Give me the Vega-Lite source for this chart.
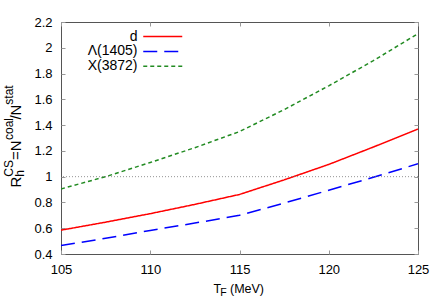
{
  "$schema": "https://vega.github.io/schema/vega-lite/v6.json",
  "width": 357,
  "height": 232,
  "autosize": {"type": "none"},
  "padding": {"left": 61, "top": 22, "right": 18, "bottom": 51},
  "background": "white",
  "config": {
    "view": {"stroke": "#555555", "strokeWidth": 1},
    "font": "Liberation Sans",
    "axis": {
      "labelFont": "Liberation Sans",
      "titleFont": "Liberation Sans",
      "labelColor": "black",
      "titleColor": "black",
      "titleFontWeight": "normal",
      "grid": false,
      "domain": false,
      "tickColor": "#999999",
      "tickSize": -4,
      "labelFontSize": 13,
      "titleFontSize": 13,
      "labelFlush": false,
      "labelOverlap": false
    }
  },
  "datasets": {
    "curves": [
      {"T": 105, "R": 0.585, "s": "d"},
      {"T": 107.5, "R": 0.647, "s": "d"},
      {"T": 110, "R": 0.713, "s": "d"},
      {"T": 112.5, "R": 0.785, "s": "d"},
      {"T": 115, "R": 0.862, "s": "d"},
      {"T": 117.5, "R": 0.975, "s": "d"},
      {"T": 120, "R": 1.095, "s": "d"},
      {"T": 122.5, "R": 1.23, "s": "d"},
      {"T": 125, "R": 1.37, "s": "d"},
      {"T": 105, "R": 0.465, "s": "Λ(1405)"},
      {"T": 107.5, "R": 0.522, "s": "Λ(1405)"},
      {"T": 110, "R": 0.583, "s": "Λ(1405)"},
      {"T": 112.5, "R": 0.64, "s": "Λ(1405)"},
      {"T": 115, "R": 0.7, "s": "Λ(1405)"},
      {"T": 117.5, "R": 0.795, "s": "Λ(1405)"},
      {"T": 120, "R": 0.895, "s": "Λ(1405)"},
      {"T": 122.5, "R": 0.995, "s": "Λ(1405)"},
      {"T": 125, "R": 1.1, "s": "Λ(1405)"},
      {"T": 105, "R": 0.905, "s": "X(3872)"},
      {"T": 107.5, "R": 1.0, "s": "X(3872)"},
      {"T": 110, "R": 1.11, "s": "X(3872)"},
      {"T": 112.5, "R": 1.225, "s": "X(3872)"},
      {"T": 115, "R": 1.35, "s": "X(3872)"},
      {"T": 117.5, "R": 1.52, "s": "X(3872)"},
      {"T": 120, "R": 1.705, "s": "X(3872)"},
      {"T": 122.5, "R": 1.9, "s": "X(3872)"},
      {"T": 125, "R": 2.11, "s": "X(3872)"}
    ],
    "ref": [{"v": 1}]
  },
  "layer": [
    {
      "data": {"name": "curves"},
      "mark": {"type": "line", "strokeWidth": 1.5, "clip": true},
      "encoding": {
        "x": {
          "field": "T", "type": "quantitative",
          "scale": {"domain": [105, 125], "nice": false, "zero": false},
          "axis": {
            "orient": "bottom", "values": [105, 110, 115, 120, 125],
            "labelPadding": 13,
            "title": "T", "titleFontSize": 12.5,
            "titleX": 152, "titleY": 38, "titleAlign": "left", "titleBaseline": "alphabetic"
          }
        },
        "y": {
          "field": "R", "type": "quantitative",
          "scale": {"domain": [0.4, 2.2], "nice": false, "zero": false},
          "axis": {
            "orient": "left", "values": [0.4, 0.6, 0.8, 1, 1.2, 1.4, 1.6, 1.8, 2, 2.2],
            "format": "~g", "labelPadding": 13,
            "title": "R\u00a0\u00a0\u00a0\u00a0=N\u00a0\u00a0\u00a0\u00a0\u00a0/N",
            "titleFontSize": 15,
            "titleX": -40.5, "titleY": 165, "titleAngle": -90, "titleAlign": "left", "titleBaseline": "alphabetic"
          }
        },
        "color": {
          "field": "s", "type": "nominal",
          "scale": {"domain": ["d", "Λ(1405)", "X(3872)"], "range": ["#ff0000", "#0000ff", "#228b22"]},
          "legend": {
            "title": null, "orient": "none", "legendX": 94.75, "legendY": 7.6,
            "symbolType": "M-9.75,0H9.75", "symbolSize": 16, "symbolStrokeWidth": 1.5,
            "labelAlign": "right", "labelOffset": -32.25, "labelFontSize": 14,
            "labelFont": "Liberation Sans", "labelColor": "black",
            "rowPadding": 0.8, "padding": 0
          }
        },
        "strokeDash": {
          "field": "s", "type": "nominal",
          "scale": {"domain": ["d", "Λ(1405)", "X(3872)"], "range": [[1, 0], [14, 7], [4, 3]]},
          "legend": {
            "title": null, "orient": "none", "legendX": 94.75, "legendY": 7.6,
            "symbolType": "M-9.75,0H9.75", "symbolSize": 16, "symbolStrokeWidth": 1.5,
            "labelAlign": "right", "labelOffset": -32.25, "labelFontSize": 14,
            "labelFont": "Liberation Sans", "labelColor": "black",
            "rowPadding": 0.8, "padding": 0
          }
        }
      }
    },
    {
      "data": {"name": "ref"},
      "mark": {"type": "rule", "color": "#777777", "strokeDash": [1, 2], "strokeWidth": 0.8},
      "encoding": {
        "y": {
          "field": "v", "type": "quantitative",
          "scale": {"domain": [0.4, 2.2], "nice": false, "zero": false},
          "axis": {"orient": "right", "values": [0.4, 0.6, 0.8, 1, 1.2, 1.4, 1.6, 1.8, 2, 2.2], "labels": false, "title": null}
        }
      }
    },
    {
      "data": {"name": "curves"},
      "mark": {"type": "point", "opacity": 0},
      "encoding": {
        "x": {
          "field": "T", "type": "quantitative",
          "scale": {"domain": [105, 125], "nice": false, "zero": false},
          "axis": {
            "orient": "top", "values": [105, 110, 115, 120, 125], "labels": false,
            "title": "(MeV)", "titleFontSize": 12.5,
            "titleX": 168.5, "titleY": 270, "titleAlign": "left", "titleBaseline": "alphabetic"
          }
        },
        "y": {
          "field": "R", "type": "quantitative",
          "scale": {"domain": [0.4, 2.2], "nice": false, "zero": false},
          "axis": {
            "orient": "left", "labels": false, "ticks": false,
            "title": "CS\u00a0\u00a0\u00a0\u00a0\u00a0\u00a0coal\u00a0\u00a0\u00a0\u00a0stat",
            "titleFontSize": 12,
            "titleX": -48.5, "titleY": 154.2, "titleAngle": -90, "titleAlign": "left", "titleBaseline": "alphabetic"
          }
        }
      }
    },
    {
      "data": {"name": "curves"},
      "mark": {"type": "point", "opacity": 0},
      "encoding": {
        "x": {
          "field": "T", "type": "quantitative",
          "scale": {"domain": [105, 125], "nice": false, "zero": false},
          "axis": {
            "orient": "bottom", "labels": false, "ticks": false,
            "title": "F", "titleFontSize": 10.5,
            "titleX": 158.8, "titleY": 41, "titleAlign": "left", "titleBaseline": "alphabetic"
          }
        },
        "y": {
          "field": "R", "type": "quantitative",
          "scale": {"domain": [0.4, 2.2], "nice": false, "zero": false},
          "axis": {
            "orient": "left", "labels": false, "ticks": false,
            "title": "h", "titleFontSize": 12,
            "titleX": -37.5, "titleY": 154.2, "titleAngle": -90, "titleAlign": "left", "titleBaseline": "alphabetic"
          }
        }
      }
    }
  ],
  "resolve": {"axis": {"x": "independent", "y": "independent"}}
}
